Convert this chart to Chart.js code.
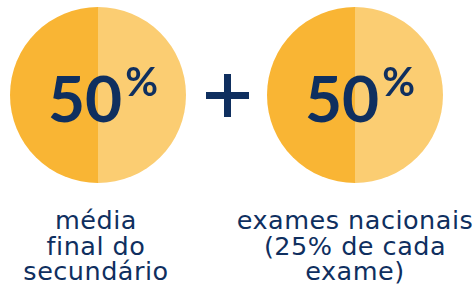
<!DOCTYPE html>
<html>
<head>
<meta charset="utf-8">
<script src="https://cdn.jsdelivr.net/npm/chart.js@4/dist/chart.umd.min.js"></script>
<style>
  body { margin: 0; background: #fff; }
  #wrap { position: relative; width: 474px; height: 287px; overflow: hidden; }
  canvas { position: absolute; }
  .lbl {
    position: absolute; width: 260px; text-align: center;
    font-family: "DejaVu Sans"; font-size: 25.5px; line-height: 25.5px;
    letter-spacing: 0.5px; color: #0f2f5f;
  }
  .bar { position: absolute; background: #0f2f5f; }
</style>
</head>
<body>
<div id="wrap">
  <canvas id="pie1" width="176" height="176" style="left:10px;top:7px"></canvas>
  <canvas id="pie2" width="176" height="176" style="left:267px;top:7px"></canvas>
  <div class="bar" style="left:206px;top:92px;width:43px;height:7px"></div>
  <div class="bar" style="left:224px;top:74px;width:7px;height:43px"></div>
  <div class="lbl" id="lbl1" style="left:-34px;top:208px"></div>
  <div class="lbl" id="lbl2" style="left:225px;top:208px"></div>
</div>
<script>
// shares shown in each circle (right half first, then left half)
const shares1 = [50, 50];
const shares2 = [50, 50];
const labels1 = ["média", "final do", "secundário"];
const labels2 = ["exames nacionais", "(25% de cada", "exame)"];
const colors = ["#fbcd72", "#f9b534"];
const navy = "#0f2f5f";

document.getElementById("lbl1").innerHTML = labels1.join("<br>");
document.getElementById("lbl2").innerHTML = labels2.join("<br>");

// write the share in the middle of the circle, with a small raised %
const centerText = {
  id: "centerText",
  afterDraw(chart) {
    const ctx = chart.ctx;
    const arc = chart.getDatasetMeta(0).data[0];
    const cx = arc.x, cy = arc.y;
    const v = chart.data.datasets[0].data[0];
    ctx.save();
    ctx.fillStyle = navy;
    ctx.textAlign = "left";
    ctx.textBaseline = "alphabetic";
    ctx.font = "bold 64px Lato";
    ctx.fillText(String(v), cx - 50, cy + 27);
    const w = ctx.measureText(String(v)).width;
    ctx.font = "bold 40px Lato";
    ctx.fillText("%", cx - 50 + w + 3, cy + 1);
    ctx.restore();
  },
};

function makePie(id, shares) {
  return new Chart(document.getElementById(id), {
    type: "pie",
    data: {
      labels: ["a", "b"],
      datasets: [{ data: shares, backgroundColor: colors, borderWidth: 0 }],
    },
    options: {
      responsive: false,
      animation: false,
      events: [],
      plugins: { legend: { display: false }, tooltip: { enabled: false } },
    },
    plugins: [centerText],
  });
}

makePie("pie1", shares1);
makePie("pie2", shares2);
</script>
</body>
</html>
